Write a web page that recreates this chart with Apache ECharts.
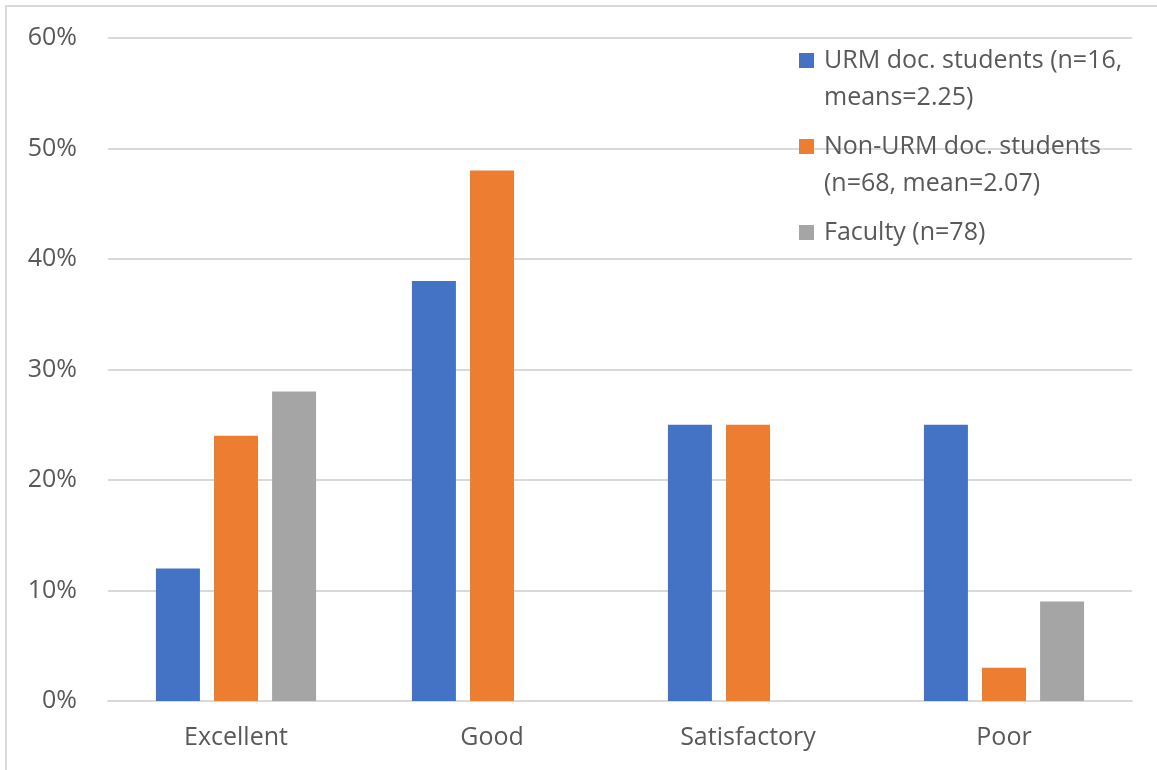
<!DOCTYPE html>
<html>
<head>
<meta charset="utf-8">
<script src="https://cdn.jsdelivr.net/npm/echarts@6/dist/echarts.min.js"></script>
<style>
  html, body { margin: 0; padding: 0; background: #fff; }
  #chart { width: 1157px; height: 770px; }
</style>
</head>
<body>
<div id="chart"></div>
<script>
var categories = ['Excellent', 'Good', 'Satisfactory', 'Poor'];
var seriesNames = [
    'URM doc. students (n=16,\nmeans=2.25)',
    'Non-URM doc. students\n(n=68, mean=2.07)',
    'Faculty (n=78)'
];
var urmValues = [12, 38, 25, 25];
var nonUrmValues = [24, 48, 25, 3];
var facultyValues = [28, 0, 0, 9];
var colors = ['#4472C4', '#ED7D31', '#A5A5A5'];

var font = 'Open Sans';
var textColor = '#595959';

var chart = echarts.init(document.getElementById('chart'));

function bar(name, data, color) {
    return {
        name: name,
        type: 'bar',
        data: data,
        barWidth: 44,
        barGap: '32%',
        itemStyle: { color: color },
        emphasis: { disabled: true }
    };
}

// every legend label gets 3 lines so the first text line sits on the icon
function legendLabel(name) {
    if (name.indexOf('\n') >= 0) return '\n' + name;
    return '\n' + name + '\n';
}

chart.setOption({
    animation: false,
    textStyle: { fontFamily: font },
    graphic: [{
        type: 'rect',
        shape: { x: 6, y: 6, width: 1300, height: 900 },
        style: { fill: 'none', stroke: '#d9d9d9', lineWidth: 2 },
        silent: true
    }],
    grid: {
        left: 108,
        right: 25,
        top: 38,
        bottom: 69
    },
    legend: {
        orient: 'vertical',
        left: 799,
        top: 5,
        padding: 0,
        itemGap: -25,
        itemWidth: 15,
        itemHeight: 15,
        icon: 'rect',
        data: seriesNames,
        formatter: legendLabel,
        textStyle: {
            fontFamily: font,
            fontSize: 25,
            color: textColor,
            lineHeight: 37,
            padding: [0, 0, 0, 5]
        }
    },
    xAxis: {
        type: 'category',
        data: categories,
        axisLine: { show: true, lineStyle: { color: '#d9d9d9', width: 2 } },
        axisTick: { show: false },
        axisLabel: {
            fontFamily: font,
            fontSize: 25,
            color: textColor,
            margin: 24
        }
    },
    yAxis: {
        type: 'value',
        min: 0,
        max: 60,
        interval: 10,
        axisLine: { show: false },
        axisTick: { show: false },
        splitLine: { lineStyle: { color: '#d9d9d9', width: 2 } },
        axisLabel: {
            fontFamily: font,
            fontSize: 25,
            color: textColor,
            margin: 31,
            formatter: '{value}%'
        }
    },
    series: [
        bar(seriesNames[0], urmValues, colors[0]),
        bar(seriesNames[1], nonUrmValues, colors[1]),
        bar(seriesNames[2], facultyValues, colors[2])
    ]
});
</script>
</body>
</html>
